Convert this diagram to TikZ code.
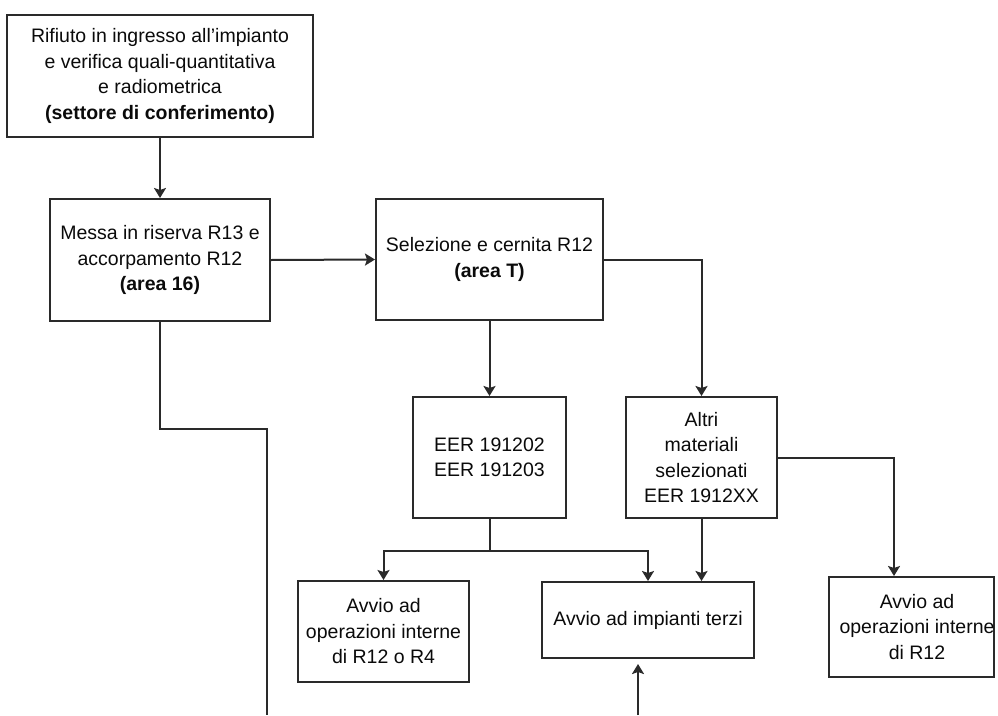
\documentclass[tikz,border=0pt]{standalone}
\usepackage{fontspec}
\setmainfont{Liberation Sans}
\usetikzlibrary{arrows.meta,calc}
\definecolor{linec}{HTML}{2A2A2A}
\definecolor{txtc}{HTML}{0A0A0A}
\tikzset{
  box/.style={draw=linec, line width=2pt, rectangle, inner sep=0pt, align=center,
    text=txtc, font=\fontsize{19.5pt}{25.5pt}\selectfont},
  txt/.style={inner sep=0pt, align=center, text=txtc, font=\fontsize{19.5pt}{25.5pt}\selectfont},
  conn/.style={draw=linec, line width=2pt},
  arr/.style={conn, -{Stealth[length=10pt,width=12pt,inset=2pt]}}
}
\begin{document}
\begin{tikzpicture}[x=1pt,y=-1pt]
\useasboundingbox (0,0) rectangle (998,715);
\node[box, minimum width=306pt, minimum height=122pt] (b1) at (160,76)
  {Rifiuto in ingresso all’impianto\\e verifica quali-quantitativa\\e radiometrica\\\textbf{(settore di conferimento)}};
\node[box, minimum width=220pt, minimum height=122pt] (b2) at (160,260)
  {Messa in riserva R13 e\\accorpamento R12\\\textbf{(area 16)}};
\node[box, minimum width=227pt, minimum height=121pt] (b3) at (489.5,259.5)
  {Selezione e cernita R12\\\textbf{(area T)}};
\node[box, minimum width=153pt, minimum height=121pt] (b4) at (489.5,457.5)
  {EER 191202\\EER 191203};
\node[box, minimum width=151pt, minimum height=121pt] (b5) at (701.5,457.5)
  {Altri\\materiali\\selezionati\\EER 1912XX};
\node[box, minimum width=212pt, minimum height=76pt] (b6) at (648,620)
  {Avvio ad impianti terzi};
\node[box, minimum width=165pt, minimum height=100pt] (b7) at (911.5,627) {};
\node[txt] (b7t) at (917,627) {Avvio ad\\operazioni interne\\di R12};
\node[box, minimum width=171pt, minimum height=101pt] (b8) at (383.5,631.5)
  {Avvio ad\\operazioni interne\\di R12 o R4};

\coordinate (e1) at (267,715);
\coordinate (e2) at (638,715);

\draw[arr] (b1.south) -- (b2.north);
\draw[arr] (b2.east) -- (b3.west);
\draw[arr] (b3.south) -- (b4.north);
\draw[arr] (b3.east) -| (b5.north);
\draw[arr] (b5.east) -| ([xshift=-17.5pt]b7.north);
\draw[arr] (b5.south) -- (b5.south |- b6.north);
\draw[conn] (b4.south) -- ++(0,32) coordinate (j);
\draw[arr] (j) -| (b8.north);
\draw[arr] (j) -| (b6.north);
\draw[conn] (b2.south) -- ++(0,107) -| (e1);
\draw[arr, shorten >=5pt] (e2) -- (e2 |- b6.south);
\end{tikzpicture}
\end{document}
